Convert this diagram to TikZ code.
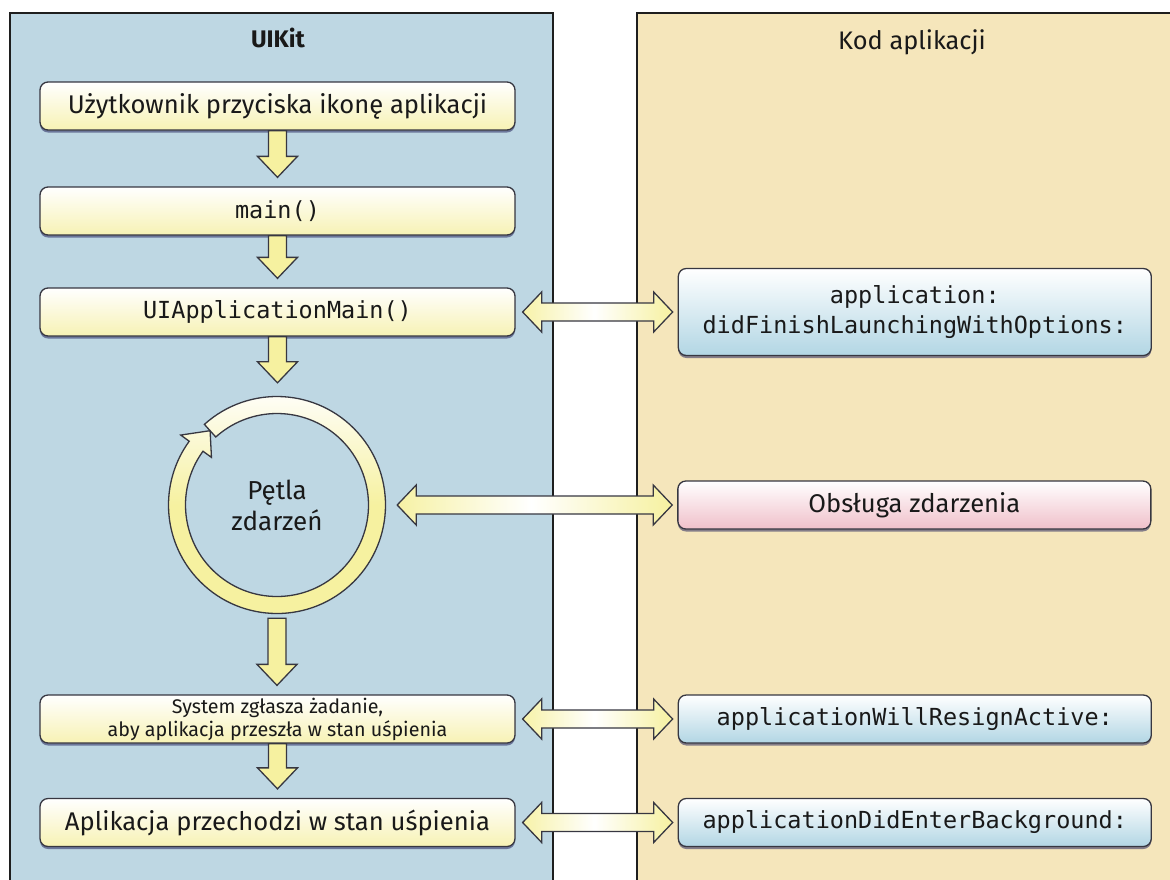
\documentclass[tikz,border=0pt]{standalone}
\usepackage{fontspec}
\setmainfont{Fira Sans}
\setmonofont{DejaVu Sans Mono}
\usetikzlibrary{positioning,calc,shadows}
\definecolor{uikitblue}{RGB}{190,215,227}
\definecolor{appbeige}{RGB}{245,230,187}
\definecolor{frameline}{RGB}{30,30,30}
\definecolor{boxline}{RGB}{55,55,65}
\definecolor{stepyellow}{RGB}{247,242,180}
\definecolor{arrowyellow}{RGB}{246,241,160}
\definecolor{callblue}{RGB}{178,214,228}
\definecolor{eventpink}{RGB}{240,192,202}
\definecolor{shadowblue}{RGB}{40,40,95}
\definecolor{textdark}{RGB}{25,25,25}

\begin{document}
\begin{tikzpicture}[
  x=1pt, y=1pt,
  panel/.style={draw=frameline, line width=2pt},
  paneltitle/.style={text=textdark, font=\fontsize{25.4}{29}\selectfont},
  stepbox/.style={
    draw=boxline,
    line width=1.3pt,
    rounded corners=8pt,
    top color=white,
    bottom color=stepyellow,
    minimum width=475pt,
    minimum height=48pt,
    inner sep=2pt,
    align=center,
    text=textdark,
    font=\fontsize{25.6}{30}\selectfont,
    drop shadow={shadow xshift=0pt, shadow yshift=-2.5pt, fill=shadowblue, opacity=0.55}
  },
  smallstep/.style={stepbox, font=\fontsize{19.7}{23}\selectfont},
  codebox/.style={stepbox, font=\ttfamily\fontsize{23.5}{30}\selectfont},
  callbox/.style={codebox, minimum width=473pt, bottom color=callblue},
  eventbox/.style={stepbox, minimum width=473pt, bottom color=eventpink},
  looplabel/.style={circle, minimum size=226pt, align=center, text=textdark,
    font=\fontsize{26}{31}\selectfont},
  flowarrow/.style={
    draw=boxline, line width=1.3pt, fill=arrowyellow,
    to path={let \p1=(\tikztostart), \p2=(\tikztotarget) in
      (\x1-9,\y1) -- (\x1-9,\y2+30) -- (\x1-20,\y2+30) -- (\x1,\y2+9)
      -- (\x1+20,\y2+30) -- (\x1+9,\y2+30) -- (\x1+9,\y1) -- cycle}
  },
  linkarrow/.style={
    draw=boxline, line width=1.3pt,
    left color=arrowyellow, right color=arrowyellow, middle color=white,
    to path={let \p1=(\tikztostart), \p2=(\tikztotarget) in
      (\x1+7,\y1) -- (\x1+26,\y1+20) -- (\x1+26,\y1+9) -- (\x2-24,\y1+9)
      -- (\x2-24,\y1+20) -- (\x2-5,\y1) -- (\x2-24,\y1-20) -- (\x2-24,\y1-9)
      -- (\x1+26,\y1-9) -- (\x1+26,\y1-20) -- cycle}
  }
]
\useasboundingbox (0,0) rectangle (1170,-879);
\clip (0,0) rectangle (1170,-879);
\fill[white] (0,0) rectangle (1170,-879);

\draw[panel, fill=uikitblue] (10,-950) -- (10,-13) -- (553,-13) -- (553,-950);
\draw[panel, fill=appbeige] (637,-950) -- (637,-13) -- (1200,-13) -- (1200,-950);
\node[paneltitle, font=\bfseries\fontsize{24}{28}\selectfont] (uikit) at (278,-38) {UIKit};
\node[paneltitle] (appcode) at (912,-42) {Kod aplikacji};

\node[stepbox] (tap) at (277.5,-106) {Użytkownik przyciska ikonę aplikacji};
\node[codebox] (mainfn) at (277.5,-211) {main()};
\node[codebox] (uiappmain) at (277.5,-312) {UIApplicationMain()};
\node[looplabel] (loop) at (277,-505) {Pętla\\zdarzeń};
\node[smallstep] (request) at (277.5,-719) {System zgłasza żadanie,\\aby aplikacja przeszła w stan uśpienia};
\node[stepbox] (background) at (277.5,-822.5) {Aplikacja przechodzi w stan uśpienia};

\node[callbox, minimum height=87pt, right=162pt of uiappmain] (didfinish) {application:\\didFinishLaunchingWithOptions:};
\node[eventbox, right=287pt of loop] (handler) {Obsługa zdarzenia};
\node[callbox, right=162pt of request] (resign) {applicationWillResignActive:};
\node[callbox, right=162pt of background] (enterbg) {applicationDidEnterBackground:};

\path[draw=boxline, line width=1.3pt, top color=white, bottom color=arrowyellow,
  middle color=arrowyellow, shift={(loop.center)}]
  (132:108.5) arc[start angle=132, end angle=-216, radius=108.5]
  -- (-216:119) -- (-228:100) -- (-216:81) -- (-216:91.5)
  arc[start angle=-216, end angle=132, radius=91.5] -- cycle;

\draw[flowarrow] (tap.south) to (mainfn.north);
\draw[flowarrow] (mainfn.south) to (uiappmain.north);
\draw[flowarrow] (uiappmain.south) to (loop.north);
\draw[flowarrow] (loop.south) to (request.north);
\draw[flowarrow] (request.south) to (background.north);

\draw[linkarrow] (uiappmain.east) to (didfinish.west);
\draw[linkarrow] (loop.east) to (handler.west);
\draw[linkarrow] (request.east) to (resign.west);
\draw[linkarrow] (background.east) to (enterbg.west);
\end{tikzpicture}
\end{document}
